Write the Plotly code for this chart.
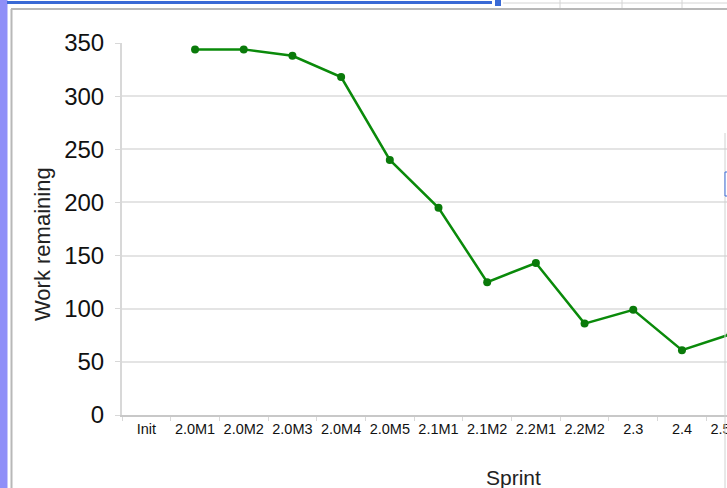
import plotly.graph_objects as go

sprints = ["Init", "2.0M1", "2.0M2", "2.0M3", "2.0M4", "2.0M5", "2.1M1",
           "2.1M2", "2.2M1", "2.2M2", "2.3", "2.4", "2.5M1"]
work_remaining = [None, 344, 344, 338, 318, 240, 195, 125, 143, 86, 99, 61, 76]
y_ticks = [0, 50, 100, 150, 200, 250, 300, 350]

W, H = 800, 488
ML, MR, MT, MB = 122, 45, 43, 73
PW, PH = W - ML - MR, H - MT - MB


def xp(px):
    return (px - ML) / PW


def yp(py):
    return (H - MB - py) / PH


fig = go.Figure()
fig.add_trace(go.Scatter(
    x=sprints, y=work_remaining, mode="lines+markers",
    line=dict(color="#0a8a0a", width=2.5),
    marker=dict(color="#0a7a0a", size=8),
    connectgaps=False, showlegend=False, cliponaxis=True,
))

font = "Liberation Sans, Arial, sans-serif"
fig.update_layout(
    width=W, height=H,
    margin=dict(l=ML, r=MR, t=MT, b=MB, pad=0),
    paper_bgcolor="white", plot_bgcolor="white",
    font=dict(family=font, color="#000"),
    xaxis=dict(
        type="category", categoryorder="array", categoryarray=sprints,
        range=[-0.5, len(sprints) - 0.5],
        showgrid=False, showline=True, linecolor="#c8c8c8", linewidth=2,
        ticks="outside", tickson="boundaries", ticklen=4, tickcolor="#d8d8d8",
        tickfont=dict(size=14.5, color="#111"), tickangle=0, zeroline=False,
    ),
    yaxis=dict(
        range=[0, 350], tickvals=y_ticks,
        showgrid=True, gridcolor="#e4e4e4", gridwidth=2,
        showline=True, linecolor="#d8d8d8", linewidth=2,
        ticks="outside", ticklen=5, tickcolor="#d8d8d8",
        tickfont=dict(size=24, color="#111"), ticklabelstandoff=6,
        zeroline=False,
    ),
    annotations=[
        dict(text="Sprint", xref="paper", yref="paper", x=xp(513), y=yp(477),
             showarrow=False, font=dict(size=21, color="#222"),
             xanchor="center", yanchor="middle"),
        dict(text="Work remaining", xref="paper", yref="paper", x=xp(42), y=yp(244),
             showarrow=False, textangle=-90, font=dict(size=22, color="#222"),
             xanchor="center", yanchor="middle"),
    ],
    shapes=[
        # left blue strip
        dict(type="rect", xref="paper", yref="paper", x0=xp(0), x1=xp(7.5),
             y0=yp(0), y1=yp(H), fillcolor="#8f8ff8", line=dict(width=0), layer="above"),
        # chart frame
        dict(type="line", xref="paper", yref="paper", x0=xp(11.5), x1=xp(11.5),
             y0=yp(9), y1=yp(H), line=dict(color="#b8b8b8", width=2)),
        dict(type="line", xref="paper", yref="paper", x0=xp(11), x1=xp(W),
             y0=yp(9), y1=yp(9), line=dict(color="#b8b8b8", width=2)),
        # top blue selection bar
        dict(type="line", xref="paper", yref="paper", x0=xp(7), x1=xp(492),
             y0=yp(2.5), y1=yp(2.5), line=dict(color="#3a6ad6", width=3)),
        dict(type="rect", xref="paper", yref="paper", x0=xp(495), x1=xp(501),
             y0=yp(0), y1=yp(6), fillcolor="#3a6ad6", line=dict(width=0)),
        dict(type="line", xref="paper", yref="paper", x0=xp(503), x1=xp(W),
             y0=yp(3), y1=yp(3), line=dict(color="#d4d4d4", width=1)),
        dict(type="line", xref="paper", yref="paper", x0=xp(560), x1=xp(560),
             y0=yp(0), y1=yp(8), line=dict(color="#d4d4d4", width=1)),
        dict(type="line", xref="paper", yref="paper", x0=xp(622), x1=xp(622),
             y0=yp(0), y1=yp(8), line=dict(color="#d4d4d4", width=1)),
        dict(type="line", xref="paper", yref="paper", x0=xp(682), x1=xp(682),
             y0=yp(0), y1=yp(8), line=dict(color="#d4d4d4", width=1)),
        # right edge artefacts
        dict(type="line", xref="paper", yref="paper", x0=xp(725), x1=xp(725),
             y0=yp(133), y1=yp(H), line=dict(color="#d0d0d0", width=1)),
        dict(type="rect", xref="paper", yref="paper", x0=xp(725), x1=xp(730),
             y0=yp(172), y1=yp(196), fillcolor="white",
             line=dict(color="#3a6ad6", width=1)),
    ],
)

fig.write_html(
    "out.html",
    config={"displayModeBar": False},
    post_script=("document.body.style.margin='0';"
                 "document.body.style.overflow='hidden';"
                 "document.documentElement.style.overflow='hidden';"),
)
